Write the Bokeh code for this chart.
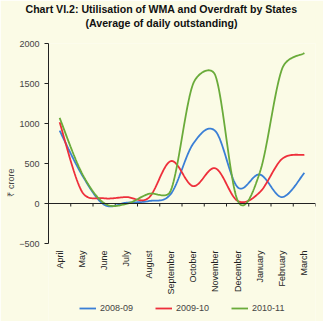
import numpy as np
from bokeh.plotting import figure
from bokeh.models import (Range1d, FixedTicker, Title, Legend, LegendItem, Span)
from bokeh.core.properties import value
from bokeh.embed import file_html
from bokeh.resources import INLINE

months = ["April", "May", "June", "July", "August", "September", "October",
          "November", "December", "January", "February", "March"]
s2008_09 = [912, 360, -15, 10, 30, 120, 746, 905, 204, 362, 80, 383]
s2009_10 = [1016, 150, 65, 80, 70, 530, 217, 440, 32, 142, 558, 608]
s2010_11 = [1071, 380, 5, -5, 120, 165, 1496, 1600, 37, 390, 1685, 1880]
series_names = ["2008-09", "2009-10", "2010-11"]
colors = ["#3a7fd6", "#ee2f3b", "#6aab3a"]
yticks = [-500, 0, 500, 1000, 1500, 2000]

FONT = "Liberation Sans"
BG = "#fbfbe6"

FW, PH, BOTTOM = 267, 200, 78   # plot width, plot-area height, space below for labels/legend
YMIN, YMAX = -500, 2000
n = len(months)
SX = FW / n
SY = PH / (YMAX - YMIN)


def smooth(xs, ys, k=24):
    """Excel-style smoothed line (Bezier with capped control points, in pixel space)."""
    P = np.column_stack([np.asarray(xs, float) * SX, np.asarray(ys, float) * SY])
    m = len(P)
    out = []
    for i in range(m - 1):
        p0 = P[max(i - 1, 0)]
        p1 = P[i]
        p2 = P[i + 1]
        p3 = P[min(i + 2, m - 1)]
        d02 = np.hypot(*(p2 - p0))
        d12 = np.hypot(*(p2 - p1))
        d13 = np.hypot(*(p3 - p1))
        f = 1 / 6
        f1 = f if d02 / 6 < d12 / 2 else (d12 / 2 / d02 if d02 > 0 else 0)
        f2 = f if d13 / 6 < d12 / 2 else (d12 / 2 / d13 if d13 > 0 else 0)
        c1 = p1 + (p2 - p0) * f1
        c2 = p2 - (p3 - p1) * f2
        t = np.linspace(0, 1, k, endpoint=(i == m - 2))[:, None]
        seg = ((1 - t) ** 3) * p1 + 3 * ((1 - t) ** 2) * t * c1 + 3 * (1 - t) * t ** 2 * c2 + t ** 3 * p2
        out.append(seg)
    out = np.vstack(out)
    return out[:, 0] / SX, out[:, 1] / SY


xc = [i + 0.5 for i in range(n)]
ybottom = YMIN - BOTTOM / SY

p = figure(frame_width=FW, frame_height=PH + BOTTOM, output_backend="svg",
           toolbar_location=None, x_axis_location=None,
           x_range=Range1d(0, n), y_range=Range1d(ybottom, YMAX),
           min_border_left=48, min_border_right=8, min_border_top=43, min_border_bottom=0,
           background_fill_color=BG, border_fill_color=BG, outline_line_color=None)
p.grid.visible = False

# title (stacked from the frame upwards: spacer, line 2, line 1)
p.title.visible = False
spacer = Title(text=" ", text_font=FONT, text_font_size="10.6px", standoff=1)
t2 = Title(text="(Average of daily outstanding)", align="left", text_font=FONT,
           text_font_size="10.6px", text_font_style="bold", text_color="#111111",
           standoff=0, offset=37)
t1 = Title(text="Chart VI.2: Utilisation of WMA and Overdraft by States", align="left",
           text_font=FONT, text_font_size="10.6px", text_font_style="bold",
           text_color="#111111", standoff=0, offset=-23)
p.add_layout(spacer, "above")
p.add_layout(t2, "above")
p.add_layout(t1, "above")

# y axis (line only over the value range)
ya = p.yaxis[0]
ya.bounds = (YMIN, YMAX)
ya.ticker = FixedTicker(ticks=yticks)
ya.axis_label = "₹ crore"
ya.axis_label_text_font = FONT
ya.axis_label_text_font_size = "9px"
ya.axis_label_text_font_style = "normal"
ya.axis_label_standoff = 0
ya.major_label_text_font = FONT
ya.major_label_text_font_size = "9px"
ya.minor_tick_line_color = None
ya.major_tick_out = 4
ya.major_tick_in = 0
ya.axis_line_color = "#222222"
ya.major_tick_line_color = "#222222"

# month labels, rotated, below the plot area
p.text(x=xc, y=[YMIN - 7 / SY] * n, text=months, angle=np.pi / 2,
       text_align="right", text_baseline="middle", text_font=value(FONT),
       text_font_size="9px", text_color="#222222")

# zero line with category boundary ticks
p.add_layout(Span(location=0, dimension="width", line_color="#222222", line_width=1))
bounds = list(range(0, n + 1))
p.segment(x0=bounds, y0=[0] * len(bounds), x1=bounds, y1=[-3 / SY] * len(bounds),
          line_color="#222222", line_width=1)

items = []
for name, ys, col in zip(series_names, [s2008_09, s2009_10, s2010_11], colors):
    sx, sy = smooth(xc, ys)
    r = p.line(sx, sy, line_color=col, line_width=1.8)
    items.append(LegendItem(label=name, renderers=[r]))

leg = Legend(items=items, orientation="horizontal", location=(31, 8),
             label_text_font=FONT, label_text_font_size="9px",
             background_fill_alpha=0, border_line_color=None,
             glyph_width=17, glyph_height=8, label_height=8,
             spacing=22, label_standoff=4, padding=0, margin=0)
p.add_layout(leg)

open("out.html", "w").write(file_html(p, INLINE))
